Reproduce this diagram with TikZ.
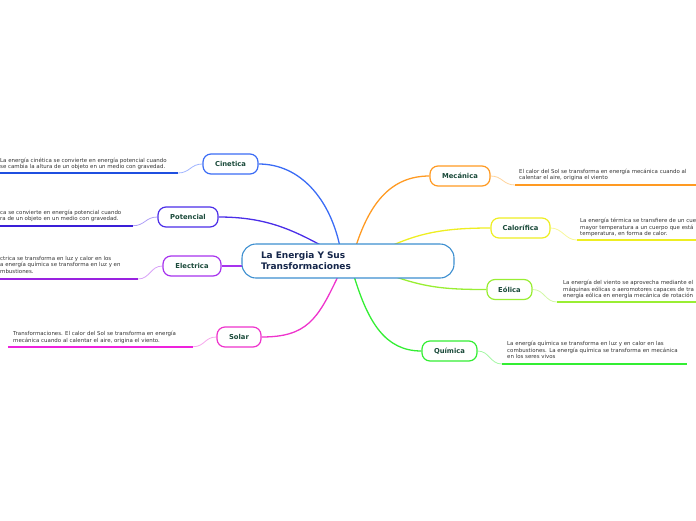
\documentclass[tikz,border=0pt]{standalone}
\usepackage{fontspec}
\setmainfont{DejaVu Sans}
\usetikzlibrary{calc}
\pgfdeclarelayer{background}
\pgfsetlayers{background,main}
\definecolor{cinC}{HTML}{3B6CF5}
\definecolor{cinL}{HTML}{A0B4FF}
\definecolor{cinU}{HTML}{1F4FE0}
\definecolor{potC}{HTML}{4B2EE8}
\definecolor{potL}{HTML}{AE9EF7}
\definecolor{potU}{HTML}{3A1FD8}
\definecolor{eleC}{HTML}{A733EE}
\definecolor{eleL}{HTML}{D8A2F7}
\definecolor{eleU}{HTML}{9922E0}
\definecolor{solC}{HTML}{EE33CC}
\definecolor{solL}{HTML}{F6A6EC}
\definecolor{solU}{HTML}{EE22DD}
\definecolor{mecC}{HTML}{FF9A22}
\definecolor{mecL}{HTML}{FFD39A}
\definecolor{calC}{HTML}{EEEE22}
\definecolor{calL}{HTML}{F7F79A}
\definecolor{eolC}{HTML}{99EE33}
\definecolor{eolL}{HTML}{D2F8A6}
\definecolor{quiC}{HTML}{33EE33}
\definecolor{quiL}{HTML}{A6F7A6}
\definecolor{cenC}{HTML}{3D8FD0}
\definecolor{titleC}{HTML}{15264A}
\definecolor{labelC}{HTML}{1A4A3A}
\definecolor{leafC}{HTML}{333333}
\tikzset{
  topic/.style={draw, line width=1.2pt, rounded corners=8pt, fill=white,
    minimum height=20pt, inner sep=0pt, text=labelC,
    font=\fontsize{6.8}{8}\selectfont\bfseries},
  central/.style={draw=cenC, line width=1.1pt, rounded corners=14pt, fill=white,
    minimum width=212pt, minimum height=34pt, text width=174pt, inner xsep=19pt,
    inner ysep=0pt, align=left, text=titleC,
    font=\fontsize{9}{11}\selectfont\bfseries},
  leaf/.style={anchor=north west, inner sep=0pt, align=left, text=leafC,
    font=\fontsize{5.45}{6.7}\selectfont},
  mainline/.style={line width=1.3pt},
  leafline/.style={line width=0.8pt},
  under/.style={line width=2pt}
}
\begin{document}
\begin{tikzpicture}[x=1pt,y=-1pt]
\useasboundingbox (0,0) rectangle (696,520);
% central
\node[central] (c) at (348,261) {La Energia Y Sus\\Transformaciones};
% topics
\node[topic, draw=cinC, minimum width=55pt] (cin) at (230.5,164) {Cinetica};
\node[topic, draw=potC, minimum width=60pt] (pot) at (188,217) {Potencial};
\node[topic, draw=eleC, minimum width=58pt] (ele) at (192,266) {Electrica};
\node[topic, draw=solC, minimum width=44pt] (sol) at (239,337) {Solar};
\node[topic, draw=mecC, minimum width=60pt] (mec) at (460,176) {Mecánica};
\node[topic, draw=calC, minimum width=59pt] (cal) at (520.5,228) {Calorífica};
\node[topic, draw=eolC, minimum width=45pt] (eol) at (509.5,289.5) {Eólica};
\node[topic, draw=quiC, minimum width=55pt] (qui) at (449.5,351) {Química};
% leaf texts
\node[leaf] (tcin) at (0,157.5) {La energía cinética se convierte en energía potencial cuando\\se cambia la altura de un objeto en un medio con gravedad.};
\node[leaf] (tpot) at (0,209.5) {ca se convierte en energía potencial cuando\\ra de un objeto en un medio con gravedad.};
\node[leaf] (tele) at (0,255.7) {ctrica se transforma en luz y calor en los\\a energía química se transforma en luz y en\\mbustiones.};
\node[leaf] (tsol) at (13,330.8) {Transformaciones. El calor del Sol se transforma en energía\\mecánica cuando al calentar el aire, origina el viento.};
\node[leaf] (tmec) at (519,168.5) {El calor del Sol se transforma en energía mecánica cuando al\\calentar el aire, origina el viento};
\node[leaf] (tcal) at (580,217.8) {La energía térmica se transfiere de un cue\\mayor temperatura a un cuerpo que está\\temperatura, en forma de calor.};
\node[leaf] (teol) at (563,279.8) {La energía del viento se aprovecha mediante el\\máquinas eólicas o aeromotores capaces de tra\\energía eólica en energía mecánica de rotación};
\node[leaf] (tqui) at (507,340.8) {La energía química se transforma en luz y en calor en las\\combustiones. La energía química se transforma en mecánica\\en los seres vivos};
% underline end points
\coordinate (ucinA) at (0,173); \coordinate (ucinB) at (178,173);
\coordinate (upotA) at (0,225.7); \coordinate (upotB) at (133,225.7);
\coordinate (ueleA) at (0,279); \coordinate (ueleB) at (138,279);
\coordinate (usolA) at (8,346.7); \coordinate (usolB) at (193,346.7);
\coordinate (umecA) at (515,185); \coordinate (umecB) at (696,185);
\coordinate (ucalA) at (577,240); \coordinate (ucalB) at (696,240);
\coordinate (ueolA) at (557,302); \coordinate (ueolB) at (696,302);
\coordinate (uquiA) at (502,364); \coordinate (uquiB) at (687,364);
\begin{pgfonlayer}{background}
% main connectors
\draw[mainline, cinC] (cin.east) .. controls +(42,0) and +(-10,-45) .. ($(c.north west)+(98,1)$);
\draw[mainline, potC] (pot.east) .. controls +(45,0) and +(-30,-16) .. ($(c.north west)+(78,1)$);
\draw[mainline, eleC] (ele.east) .. controls +(8,0) and +(-8,0) .. ($(c.west)+(1,5)$);
\draw[mainline, solC] (sol.east) .. controls +(45,0) and +(-20,42) .. ($(c.south west)+(96,-1)$);
\draw[mainline, mecC] ($(c.north west)+(115,1)$) .. controls +(14,-42) and +(-38,0) .. (mec.west);
\draw[mainline, calC] ($(c.north west)+(153,1)$) .. controls +(30,-13) and +(-40,0) .. (cal.west);
\draw[mainline, eolC] ($(c.south west)+(156,-1)$) .. controls +(30,10) and +(-40,0) .. (eol.west);
\draw[mainline, quiC] ($(c.south west)+(113,-1)$) .. controls +(14,45) and +(-36,0) .. (qui.west);
% leaf connectors
\draw[leafline, cinL] (ucinB) .. controls +(12,0) and +(-12,0) .. (cin.west);
\draw[leafline, potL] (upotB) .. controls +(12,0) and +(-12,0) .. (pot.west);
\draw[leafline, eleL] (ueleB) .. controls +(12,0) and +(-12,0) .. (ele.west);
\draw[leafline, solL] (usolB) .. controls +(12,0) and +(-12,0) .. (sol.west);
\draw[leafline, mecL] (mec.east) .. controls +(12,0) and +(-12,0) .. (umecA);
\draw[leafline, calL] (cal.east) .. controls +(12,0) and +(-12,0) .. (ucalA);
\draw[leafline, eolL] (eol.east) .. controls +(12,0) and +(-12,0) .. (ueolA);
\draw[leafline, quiL] (qui.east) .. controls +(12,0) and +(-12,0) .. (uquiA);
% underlines
\draw[under, cinU] (ucinA) -- (ucinB);
\draw[under, potU] (upotA) -- (upotB);
\draw[under, eleU] (ueleA) -- (ueleB);
\draw[under, solU] (usolA) -- (usolB);
\draw[under, mecC] (umecA) -- (umecB);
\draw[under, calC] (ucalA) -- (ucalB);
\draw[under, eolC] (ueolA) -- (ueolB);
\draw[under, quiC] (uquiA) -- (uquiB);
\end{pgfonlayer}
\end{tikzpicture}
\end{document}
